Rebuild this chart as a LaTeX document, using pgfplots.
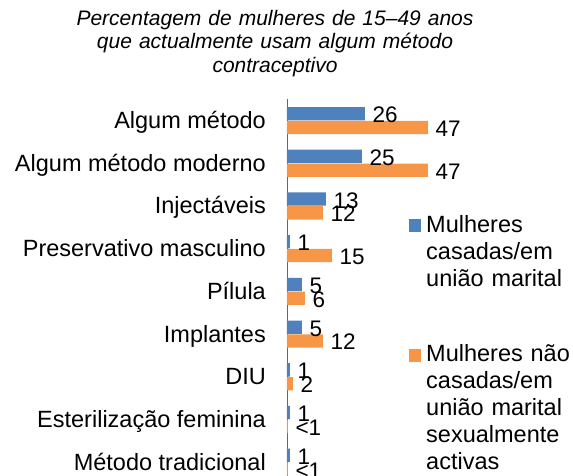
\documentclass[border=0pt]{standalone}
\usepackage{fontspec}
\setmainfont{Liberation Sans}
\usepackage{pgfplots}
\pgfplotsset{compat=1.18}
\usepackage{pgfplotstable}
\definecolor{cblue}{HTML}{4F81BD}
\definecolor{corange}{HTML}{F79646}

\pgfplotstableread{
pos val lab
8 26 26
7 25 25
6 13 13
5 1 1
4 5 5
3 5 5
2 1 1
1 1 1
0 1 1
}\casadas
\pgfplotstableread{
pos val lab
8 47 47
7 47 47
6 12 12
5 15 15
4 6 6
3 12 12
2 2 2
1 0.3 {<1}
0 0.3 {<1}
}\naocasadas

\begin{document}
\begin{tikzpicture}
\begin{axis}[
  at={(287pt,-8.5pt)}, anchor=south west,
  scale only axis, width=150pt, height=384.3pt,
  xmin=0, xmax=50, ymin=-0.5, ymax=8.5,
  clip=false,
  axis x line=none, axis y line*=left,
  y axis line style={black!60, line width=0.8pt},
  ytick={0,...,8},
  yticklabels={Método tradicional, Esterilização feminina, DIU, Implantes, Pílula, Preservativo masculino, Injectáveis, Algum método moderno, Algum método},
  major tick length=0pt,
  yticklabel style={font=\fontsize{23.5}{27}\selectfont, anchor=base east, yshift=-8pt, xshift=-21pt, inner sep=0pt},
  xbar, bar width=13.3pt,
  title={Percentagem de mulheres de 15–49 anos\\que actualmente usam algum método\\contraceptivo},
  title style={at={(-0.08,1.1757)}, anchor=base, text width=420pt, align=center, inner sep=0pt, font=\itshape\fontsize{21}{23.3}\selectfont},
  legend cell align=left,
  legend style={at={(0.81,0.6883)}, anchor=north west, draw=none, fill=none, inner sep=0pt, row sep=116pt, column sep=5pt,
    font=\fontsize{23.5}{27}\selectfont,
    nodes={inner sep=0pt, text height=0pt, text depth=0pt, text width=150pt, align=left},
    cells={anchor=base west}},
  every node near coord/.append style={font=\fontsize{22.5}{27}\selectfont, anchor=base west, yshift=-9pt, inner sep=0pt, xshift=7.5pt, text=black},
]
\addplot[xbar, fill=cblue, draw=none, bar shift=6.9pt, nodes near coords, point meta=explicit symbolic,
  legend image code/.code={\fill[cblue] (0pt,0pt) rectangle (12.5pt,13pt);}]
  table[x=val, y=pos, meta=lab] {\casadas};
\addlegendentry{Mulheres\\casadas/em\\união marital}
\addplot[xbar, fill=corange, draw=none, bar shift=-6.9pt, nodes near coords, point meta=explicit symbolic,
  legend image code/.code={\fill[corange] (0pt,0pt) rectangle (12.5pt,13pt);}]
  table[x=val, y=pos, meta=lab] {\naocasadas};
\addlegendentry{Mulheres não\\casadas/em\\união marital\\sexualmente\\activas}
\end{axis}
\pgfresetboundingbox
\path[use as bounding box] (0,0) rectangle (573pt,475pt);
\end{tikzpicture}
\end{document}
